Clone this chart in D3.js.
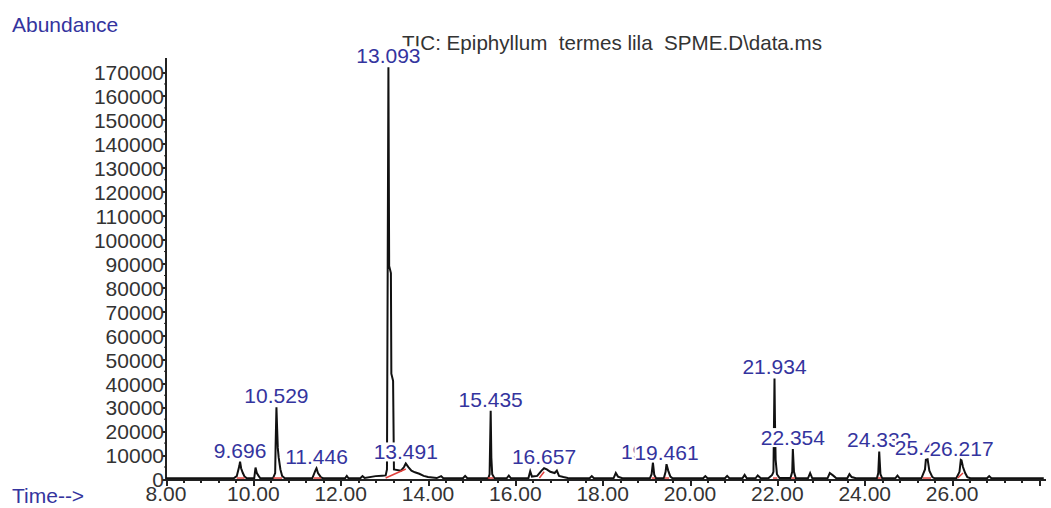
<html>
<head>
	<meta charset="utf-8">
	<title>TIC chromatogram</title>
</head>

<style>
body{
	margin: 0;
	background: white;
}
text{
	font-family: "Liberation Sans", Arial, sans-serif;
	font-size: 21px;
}
.blue{
	fill: #34349e;
}
.axis path, .axis line{
	stroke: #222;
	stroke-width: 2px;
	shape-rendering: crispEdges;
}
.axis text{
	fill: #333;
	font-size: 21px;
}
.trace{
	fill: none;
	stroke: #111;
	stroke-width: 2px;
	stroke-linejoin: miter;
}
.integ{
	stroke: #e0403c;
	stroke-width: 1.5px;
}
</style>

<body>

<script src="https://cdn.jsdelivr.net/npm/d3@7/dist/d3.min.js" charset="utf-8"></script>
<script>

// ---- data ----

// time (min), abundance
var signalTime = [8.00, 9.55, 9.62, 9.68, 9.696, 9.72, 9.76, 9.80, 9.85,
	10.02, 10.05, 10.08, 10.12, 10.16,
	10.45, 10.50, 10.51, 10.529, 10.545, 10.56, 10.58, 10.62, 10.66, 10.72,
	11.35, 11.42, 11.446, 11.48, 11.55, 11.60,
	12.10, 12.14, 12.18, 12.45, 12.50, 12.55, 12.80, 12.95, 13.03, 13.06, 13.093, 13.11, 13.15, 13.16, 13.20, 13.22,
	13.38, 13.45, 13.491, 13.55, 13.62, 13.70, 13.80, 13.90, 14.00, 14.20, 14.30, 14.35, 14.80, 14.85, 14.90,
	15.38, 15.41, 15.435, 15.45, 15.47, 15.52,
	15.80, 15.85, 15.90, 16.30, 16.34, 16.38, 16.50, 16.60, 16.657, 16.72, 16.80, 16.90, 16.95, 17.00, 17.10, 17.20,
	17.70, 17.75, 17.80, 18.25, 18.30, 18.35, 18.45,
	19.08, 19.12, 19.15, 19.18, 19.22, 19.40, 19.44, 19.461, 19.50, 19.55, 19.60,
	20.30, 20.35, 20.40, 20.80, 20.85, 20.90, 21.20, 21.25, 21.30, 21.50, 21.55, 21.62,
	21.80, 21.88, 21.91, 21.934, 21.945, 21.96, 21.99, 22.05,
	22.30, 22.34, 22.354, 22.38, 22.42,
	22.70, 22.75, 22.80, 23.15, 23.20, 23.28, 23.35, 23.60, 23.65, 23.70, 23.80,
	24.28, 24.31, 24.332, 24.36, 24.40, 24.70, 24.75, 24.80,
	25.30, 25.38, 25.40, 25.44, 25.48, 25.55, 25.60,
	26.10, 26.17, 26.20, 26.217, 26.25, 26.30, 26.35, 26.42,
	26.80, 26.85, 26.90, 28.10];

var signalAbund = [300, 300, 1200, 5500, 7200, 4500, 2500, 1000, 300,
	300, 4800, 2500, 1300, 300,
	300, 2500, 14000, 30000, 21000, 13000, 9000, 4000, 1300, 300,
	300, 3500, 4500, 2500, 700, 300,
	300, 1300, 300, 300, 1200, 400, 1200, 1400, 1500, 4000, 172000, 89000, 86000, 44000, 41000, 4000,
	3500, 5000, 6500, 5000, 3500, 2800, 2200, 1300, 800, 400, 1200, 300, 300, 1300, 300,
	300, 2000, 28500, 9000, 2000, 400,
	300, 1400, 300, 400, 3200, 1000, 1300, 3500, 4500, 4000, 3000, 2500, 3500, 1300, 800, 400,
	300, 1200, 300, 400, 2500, 1000, 300,
	300, 2000, 6800, 1800, 300, 300, 3000, 6200, 3500, 1000, 300,
	300, 1200, 300, 300, 1300, 300, 300, 1700, 300, 300, 1500, 300,
	400, 1700, 3000, 42000, 24000, 8000, 2000, 400,
	400, 3000, 12500, 3000, 400,
	300, 2500, 300, 400, 2500, 1400, 300, 300, 2000, 800, 300,
	300, 2500, 11500, 2000, 300, 300, 1400, 300,
	400, 4000, 8000, 8200, 3500, 800, 300,
	400, 3000, 8000, 7800, 5000, 2500, 800, 300,
	300, 1200, 300, 300];

// labelled peaks (retention time, apex abundance)
var peakTime  = [9.696, 10.529, 11.446, 13.093, 13.491, 15.435, 16.657, 19.152, 19.461, 21.934, 22.354, 24.332, 25.424, 26.217];
var peakAbund = [7200, 30000, 4500, 172000, 6500, 28500, 4500, 6800, 6200, 42000, 12500, 11500, 8200, 8000];

// integration baselines: start, end, start abundance, end abundance
var integStart = [9.62, 10.46, 11.38, 13.03, 15.37, 16.55, 19.12, 19.42, 21.90, 22.32, 24.30, 25.33, 26.13];
var integEnd   = [9.80, 10.66, 11.55, 13.49, 15.50, 16.66, 19.20, 19.52, 22.00, 22.40, 24.37, 25.52, 26.25];
var integA0    = [400, 400, 400, 400, 400, 400, 400, 400, 400, 400, 400, 400, 400];
var integA1    = [400, 400, 400, 4200, 400, 3000, 400, 400, 400, 400, 400, 400, 2500];

// axis ticks
var yTicks = [0, 10000, 20000, 30000, 40000, 50000, 60000, 70000, 80000, 90000,
	100000, 110000, 120000, 130000, 140000, 150000, 160000, 170000];
var xMajor = [8, 10, 12, 14, 16, 18, 20, 22, 24, 26, 28];
var xLabels = ["8.00", "10.00", "12.00", "14.00", "16.00", "18.00", "20.00", "22.00", "24.00", "26.00"];

var title = "TIC: Epiphyllum  termes lila  SPME.D\\data.ms";

// ---- drawing ----

var width = 1051;
var height = 508;

var svg = d3.select("body").append("svg")
			.attr("width",width)
			.attr("height",height);

var x = d3.scaleLinear().domain([8, 28.15]).range([166, 166 + 20.15*43.67]);
var y = d3.scaleLinear().domain([0, 170000]).range([479, 72]);

// x minor ticks every 0.4 min
var xMinor = d3.range(0, 51).map(function(i){ return +(8 + i*0.4).toFixed(1); });

// title (drawn first, the 13.093 label covers its start)
svg.append("text")
	.attr("x",402).attr("y",50)
	.attr("fill","#333")
	.style("font-size","20.6px")
	.style("white-space","pre")
	.text(title);

// y axis
var yAxis = svg.append("g")
	.attr("class","axis")
	.attr("transform","translate(" + x(8) + ",0)")
	.call(d3.axisLeft(y).tickValues(yTicks).tickSize(4).tickSizeOuter(0).tickFormat(function(d){ return d; }));
yAxis.select(".domain").attr("d","M0," + y(0) + "V" + y(176000));
yAxis.selectAll("text").attr("x",-2).attr("dy","0.37em");

// y minor ticks
svg.append("g")
	.selectAll("line")
	.data(d3.range(5000, 175000, 10000))
	.enter().append("line")
	.attr("x1",x(8) - 2).attr("x2",x(8))
	.attr("y1",function(d){ return y(d); }).attr("y2",function(d){ return y(d); })
	.attr("stroke","#222").attr("stroke-width",1);

// x axis
var xAxis = svg.append("g")
	.attr("class","axis")
	.attr("transform","translate(0," + y(0) + ")")
	.call(d3.axisBottom(x).tickValues(xMinor).tickSize(4).tickSizeOuter(0).tickFormat(""));
xAxis.selectAll(".tick line").attr("y2",function(d){ return xMajor.indexOf(d) >= 0 ? 7 : 4; });

svg.append("g")
	.selectAll("text")
	.data(xLabels)
	.enter().append("text")
	.attr("x",function(d){ return x(+d); })
	.attr("y",y(0) + 22)
	.attr("text-anchor","middle")
	.attr("fill","#333")
	.text(function(d){ return d; });

// axis titles
svg.append("text").attr("class","blue").attr("x",12).attr("y",32).text("Abundance");
svg.append("text").attr("class","blue").attr("x",12).attr("y",503).text("Time-->");

// trace
var pts = signalTime.map(function(t, i){ return [t, signalAbund[i]]; });
var line = d3.line()
	.x(function(d){ return x(d[0]); })
	.y(function(d){ return y(d[1]); });

svg.append("path")
	.datum(pts)
	.attr("class","trace")
	.attr("d",line);

// integration baselines
svg.append("g")
	.selectAll("line")
	.data(integStart)
	.enter().append("line")
	.attr("class","integ")
	.attr("x1",function(d){ return x(d); })
	.attr("x2",function(d,i){ return x(integEnd[i]); })
	.attr("y1",function(d,i){ return y(integA0[i]); })
	.attr("y2",function(d,i){ return y(integA1[i]); });

// peak labels, white box behind so later ones cover earlier ones
var labels = svg.append("g");
peakTime.forEach(function(t, i){
	var g = labels.append("g");
	var txt = g.append("text")
		.attr("class","blue")
		.attr("x",x(t))
		.attr("y",y(peakAbund[i]) - 4)
		.attr("text-anchor","middle")
		.text(d3.format(".3f")(t));
	var bb = txt.node().getBBox();
	g.insert("rect","text")
		.attr("x",bb.x).attr("y",bb.y + 2)
		.attr("width",bb.width).attr("height",bb.height - 4)
		.attr("fill","white");
});

</script>
</body>
</html>
